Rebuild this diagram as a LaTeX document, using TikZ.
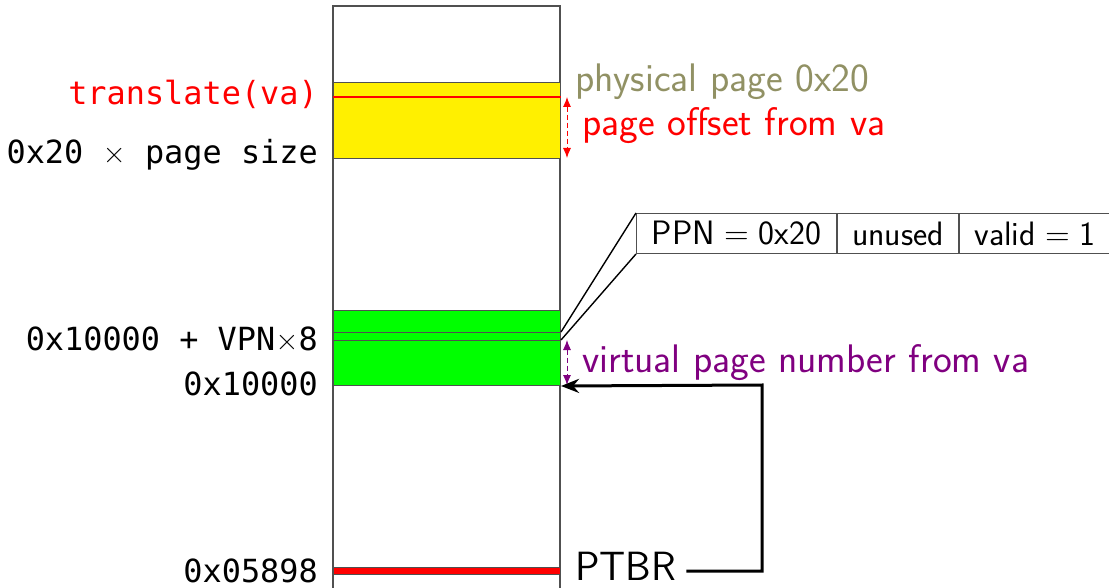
\documentclass[tikz,border=0pt]{standalone}
\usepackage{fontspec}
\setmonofont{DejaVu Sans Mono}
\newfontfamily\lmsans{Latin Modern Sans}
\usetikzlibrary{arrows.meta}
\definecolor{memyellow}{RGB}{255,240,0}
\definecolor{memgreen}{RGB}{0,255,0}
\definecolor{olivetxt}{RGB}{145,145,100}
\definecolor{purpletxt}{RGB}{128,0,128}
\definecolor{colgray}{RGB}{80,80,80}
\begin{document}
\begin{tikzpicture}[x=1bp,y=-1bp,
  monolbl/.style={font=\ttfamily\fontsize{32}{35}\selectfont, inner sep=0pt},
  sanslbl/.style={font=\sffamily\fontsize{40}{44}\selectfont, inner sep=0pt},
  cell/.style={draw=colgray, line width=1bp, font=\sffamily\fontsize{34}{36}\selectfont,
    minimum height=40bp, inner sep=0pt, anchor=north west},
  region/.style={draw=colgray, line width=1bp, inner sep=0pt, anchor=north west, minimum width=227bp},
  span/.style={{Latex[length=10bp,width=8bp]}-{Latex[length=10bp,width=8bp]}, dash pattern=on 5bp off 3bp, line width=0.9bp}
]
\clip (0,0) rectangle (1109,588);
% memory column
\draw[colgray, line width=1.1bp] (333,620) -- (333,6) -- (560,6) -- (560,620);
% physical page
\node[region, fill=memyellow, minimum height=76bp] (ppage) at (333,82) {};
\draw[red, line width=1.8bp] (ppage.west |- 0,97) coordinate (tl) -- (ppage.east |- 0,97) coordinate (tr);
% page table
\node[region, fill=memgreen, minimum height=75bp] (ptable) at (333,310) {};
\draw[colgray, line width=1bp] (ptable.west |- 0,332) -- (ptable.east |- 0,332) coordinate (pteA);
\draw[colgray, line width=1bp] (ptable.west |- 0,340) -- (ptable.east |- 0,340) coordinate (pteB);
% PTBR location
\node[region, fill=red, minimum height=7bp] (ptbrloc) at (333,567) {};
% left labels
\node[monolbl, anchor=base east, text=red] (ltrans) at (318,105) {translate(va)};
\node[monolbl, anchor=base east] (lpage) at (318,164) {0x20 {\lmsans ×} page size};
\node[monolbl, anchor=base east] (lpte) at (318,350) {0x10000 + VPN{\lmsans ×}8};
\node[monolbl, anchor=base east] (lbase) at (318,395) {0x10000};
\node[monolbl, anchor=base east] (lptbr) at (318,582) {0x05898};
% right labels
\node[sanslbl, anchor=base west, text=olivetxt] (phys) at (575,92) {physical page 0x20};
\node[sanslbl, anchor=base west, text=red] (poff) at (582,136) {page offset from va};
\node[sanslbl, anchor=base west, text=purpletxt] (vpn) at (582,372) {virtual page number from va};
\node[sanslbl, anchor=base west, font=\sffamily\fontsize{41}{45}\selectfont] (ptbr) at (575,580) {PTBR};
% dimension arrows
\draw[span, red] (567,97) -- (567,158);
\draw[span, purpletxt] (567,340) -- (567,385);
% page table entry
\node[cell, minimum width=200bp] (c1) at (636,213) {PPN\hspace{0.28em}=\hspace{0.28em}0x20};
\node[cell, minimum width=121bp] (c2) at (c1.north east) {unused};
\node[cell, minimum width=170bp, text width=150bp, align=left] (c3) at (c2.north east) {\hspace*{5bp}valid\hspace{0.28em}=\hspace{0.28em}1};
\draw[line width=1.4bp] (pteA) -- (c1.north west);
\draw[line width=1.4bp] (pteB) -- (c1.south west);
% PTBR arrow
\draw[line width=3bp, -{Stealth[length=18bp,width=14bp]}] (ptbr.east |- 0,571) ++(10,0) -- (762,571) -- (762,385) -- (ptable.south east);
\end{tikzpicture}
\end{document}
